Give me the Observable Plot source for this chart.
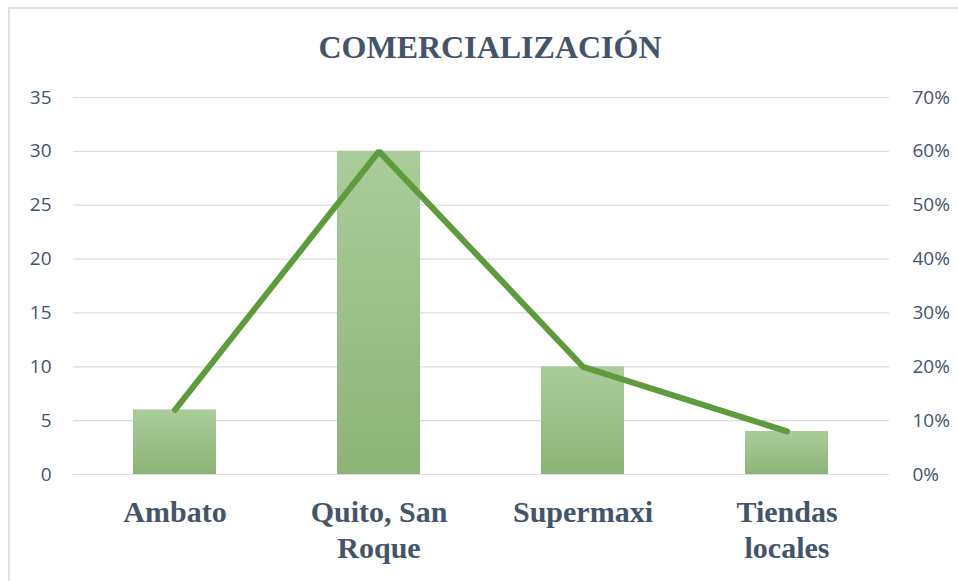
<!DOCTYPE html>
<html>
<head>
<meta charset="utf-8">
<script src="https://cdn.jsdelivr.net/npm/d3@7"></script>
<script src="https://cdn.jsdelivr.net/npm/@observablehq/plot@0.6"></script>
<style>
  html, body { margin: 0; padding: 0; background: #fff; }
  #wrap { position: relative; width: 958px; height: 581px; overflow: hidden; background: #fff; }
  #frame { position: absolute; left: 8px; top: 7px; width: 980px; height: 600px; border: 2px solid #dde1e7; box-sizing: border-box; }
  #title { position: absolute; left: 20px; width: 940px; top: 31px; line-height: 32px; text-align: center;
           font-family: "Liberation Serif", "DejaVu Serif", serif; font-weight: bold; font-size: 32px; color: #44546a; }
  #chart { position: absolute; left: 0; top: 80px; }
</style>
</head>
<body>
<div id="wrap">
  <div id="frame"></div>
  <div id="title">COMERCIALIZACIÓN</div>
  <div id="chart"></div>
</div>
<script>
const categories = ["Ambato", "Quito, San\nRoque", "Supermaxi", "Tiendas\nlocales"];
const counts = [6, 30, 10, 4];
const percents = [12, 60, 20, 8];
const leftTicks = [0, 5, 10, 15, 20, 25, 30, 35];
const rightTickLabels = ["0%", "10%", "20%", "30%", "40%", "50%", "60%", "70%"];

const data = categories.map((c, i) => ({cat: c, count: counts[i], pct: percents[i]}));
// right axis: 70% maps onto 35 on the left scale
const pctToY = p => p * 35 / 70;

const labelColor = "#44546a";

const chart = Plot.plot({
  width: 958,
  height: 501,
  marginTop: 17,
  marginBottom: 107,
  marginLeft: 73,
  marginRight: 69,
  style: {background: "transparent", overflow: "visible"},
  x: {domain: categories, paddingInner: 0.593, paddingOuter: 0.2965, label: null},
  y: {domain: [0, 35], label: null},
  marks: [
    Plot.gridY(leftTicks, {stroke: "#d9dce1", strokeOpacity: 1, strokeWidth: 1.2}),
    Plot.barY(data, {x: "cat", y: "count", fill: "url(#barGrad)"}),
    Plot.line(data, {x: "cat", y: d => pctToY(d.pct), stroke: "#5e9b3c", strokeWidth: 6,
                     strokeLinecap: "round", strokeLinejoin: "miter"}),
    Plot.axisY({anchor: "left", ticks: leftTicks, tickSize: 0, tickPadding: 22, label: null,
                fontSize: 19, fontFamily: "'Open Sans', 'Liberation Sans', sans-serif", color: labelColor}),
    Plot.axisY({anchor: "right", ticks: leftTicks, tickSize: 0, tickPadding: 23, label: null,
                tickFormat: (d, i) => rightTickLabels[leftTicks.indexOf(d)],
                fontSize: 19, fontFamily: "'Open Sans', 'Liberation Sans', sans-serif", color: labelColor}),
    Plot.axisX({tickSize: 0, tickPadding: 22, label: null, lineHeight: 1.2,
                fontSize: 30, fontWeight: "bold", fontFamily: "'Liberation Serif', 'DejaVu Serif', serif",
                color: labelColor})
  ]
});

// per-bar vertical gradient
const svg = d3.select(chart);
const defs = svg.insert("defs", ":first-child");
const grad = defs.append("linearGradient").attr("id", "barGrad")
  .attr("x1", 0).attr("y1", 0).attr("x2", 0).attr("y2", 1);
grad.append("stop").attr("offset", "0%").attr("stop-color", "#aacc9a");
grad.append("stop").attr("offset", "100%").attr("stop-color", "#8cb477");

document.getElementById("chart").appendChild(chart);
</script>
</body>
</html>
